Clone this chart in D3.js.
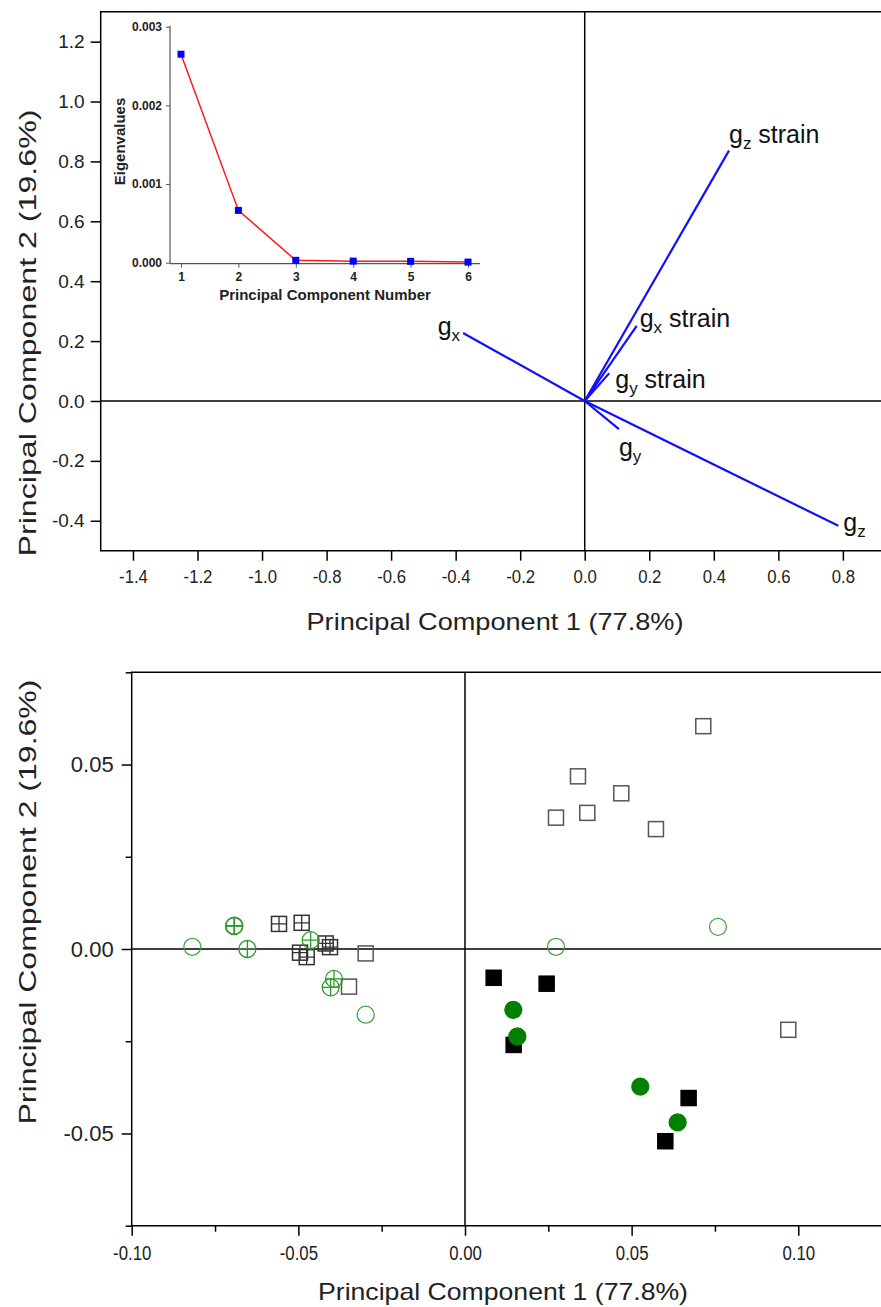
<!DOCTYPE html>
<html>
<head>
<meta charset="utf-8">
<style>
  body { margin: 0; background: #fff; }
  svg { display: block; font-family: "Liberation Sans", Arial, sans-serif; }
  .frame { fill: none; stroke: #000; stroke-width: 1.5px; }
  .zero { stroke: #000; stroke-width: 1.5px; }
  .axis path { display: none; }
  .axis line { stroke: #000; stroke-width: 1.5px; }
  .axis text { fill: #222; }
</style>
</head>
<body>
<svg id="chart" width="881" height="1307"></svg>
<script src="https://d3js.org/d3.v7.min.js"></script>
<script>
// ---- loadings (top chart) ----
var loadingNames = ["gz strain", "gx strain", "gy strain", "gy", "gz", "gx"];
var loadingX = [0.447, 0.161, 0.076, 0.106, 0.786, -0.377];
var loadingY = [0.836, 0.251, 0.093, -0.094, -0.417, 0.227];
var pc1Ticks = [-1.4, -1.2, -1.0, -0.8, -0.6, -0.4, -0.2, 0.0, 0.2, 0.4, 0.6, 0.8];
var pc2Ticks = [-0.4, -0.2, 0.0, 0.2, 0.4, 0.6, 0.8, 1.0, 1.2];

// ---- scree inset ----
var componentNumbers = [1, 2, 3, 4, 5, 6];
var eigenvalues = [0.00265, 0.000665, 0.00003, 0.00002, 0.000017, 0.000008];
var eigenTicks = [0, 0.001, 0.002, 0.003];

// ---- scores (bottom chart) ----
var openSquares = [
  [0.0715, 0.0604], [0.0339, 0.0468], [0.0469, 0.0422], [0.0273, 0.0356],
  [0.0367, 0.0369], [0.0573, 0.0325], [0.0970, -0.0219], [-0.0298, -0.0012],
  [-0.0348, -0.0102]
];
var crossSquares = [
  [-0.0558, 0.0068], [-0.0490, 0.0071], [-0.0495, -0.0010], [-0.0475, -0.0022],
  [-0.0418, 0.0015], [-0.0405, 0.0005]
];
var filledSquares = [
  [0.0086, -0.0078], [0.0245, -0.0094], [0.0146, -0.0260], [0.0671, -0.0404],
  [0.0601, -0.0521]
];
var openCircles = [
  [0.0273, 0.0006], [0.0759, 0.0060], [-0.0818, 0.0006], [-0.0298, -0.0178]
];
var crossCircles = [
  [-0.0693, 0.0062], [-0.0692, 0.0063], [-0.0653, 0.0000], [-0.0463, 0.0024],
  [-0.0393, -0.0081], [-0.0403, -0.0104]
];
var filledCircles = [
  [0.0145, -0.0165], [0.0157, -0.0237], [0.0526, -0.0373], [0.0638, -0.0470]
];
var scoreXMajor = [-0.10, -0.05, 0.00, 0.05, 0.10];
var scoreXMinor = [-0.075, -0.025, 0.025, 0.075];
var scoreYMajor = [-0.05, 0.00, 0.05];
var scoreYMinor = [-0.075, -0.025, 0.025, 0.075];

var svg = d3.select("#chart");
var hyphen = f => (v => d3.format(f)(v).replace("\u2212", "-"));

// ================= TOP: loadings =================
var x1 = d3.scaleLinear().domain([-1.5, 0.92]).range([100.7, 881.6]);
var y1 = d3.scaleLinear().domain([-0.5, 1.3]).range([550.7, 11.7]);

var topG = svg.append("g");

topG.append("g").attr("class", "axis")
  .attr("transform", "translate(0," + y1(-0.5) + ")")
  .call(d3.axisBottom(x1).tickValues(pc1Ticks).tickSize(10).tickPadding(9).tickFormat(hyphen(".1f")))
  .selectAll("text").style("font-size", "19px").attr("transform", "scale(0.88,1)");

topG.append("g").attr("class", "axis")
  .attr("transform", "translate(" + x1(-1.5) + ",0)")
  .call(d3.axisLeft(y1).tickValues(pc2Ticks).tickSize(10).tickPadding(6).tickFormat(hyphen(".1f")))
  .selectAll("text").style("font-size", "19px");

topG.append("line").attr("class", "zero")
  .attr("x1", x1(-1.5)).attr("x2", 882).attr("y1", y1(0)).attr("y2", y1(0));
topG.append("line").attr("class", "zero")
  .attr("x1", x1(0)).attr("x2", x1(0)).attr("y1", y1(1.3)).attr("y2", y1(-0.5));

topG.append("path").attr("class", "frame")
  .attr("d", "M882," + y1(1.3) + "H" + x1(-1.5) + "V" + y1(-0.5) + "H882");

topG.selectAll(".vec").data(loadingNames).enter().append("line")
  .attr("x1", x1(0)).attr("y1", y1(0))
  .attr("x2", (d, i) => x1(loadingX[i]))
  .attr("y2", (d, i) => y1(loadingY[i]))
  .attr("stroke", "#1010ff").attr("stroke-width", 2.2);

// label offsets in px from vector tip
var labelOffset = {
  "gz strain": [0, -8, "start"], "gx strain": [3, 1, "start"], "gy strain": [6, 15, "start"],
  "gy": [0, 27, "start"], "gz": [5, 5, "start"], "gx": [-3, 2, "end"]
};
loadingNames.forEach(function (name, i) {
  var o = labelOffset[name];
  var parts = name.split(" ");
  var t = topG.append("text")
    .attr("x", x1(loadingX[i]) + o[0]).attr("y", y1(loadingY[i]) + o[1])
    .attr("text-anchor", o[2]).style("font-size", "25px").attr("fill", "#111");
  t.append("tspan").text("g");
  t.append("tspan").attr("dy", 6).style("font-size", "17px").text(parts[0].slice(1));
  if (parts[1]) t.append("tspan").attr("dy", -6).text(" " + parts[1]);
});

topG.append("text").attr("x", 495).attr("y", 630).attr("text-anchor", "middle")
  .attr("textLength", 377).attr("lengthAdjust", "spacingAndGlyphs")
  .style("font-size", "24px").attr("fill", "#222").text("Principal Component 1 (77.8%)");
topG.append("text").attr("transform", "translate(36," + 333 + ") rotate(-90)")
  .attr("text-anchor", "middle").attr("textLength", 447).attr("lengthAdjust", "spacingAndGlyphs")
  .style("font-size", "24px").attr("fill", "#222")
  .text("Principal Component 2 (19.6%)");

// ---- inset scree plot ----
var xs = d3.scaleLinear().domain([1, 6]).range([181, 468]);
var ys = d3.scaleLinear().domain([0, 0.003]).range([262.7, 26.7]);
var inset = svg.append("g");

inset.append("line").attr("x1", 170).attr("x2", 170).attr("y1", ys(0.003) - 1).attr("y2", ys(0) + 1)
  .attr("stroke", "#555").attr("stroke-width", 1.2);
inset.append("line").attr("x1", 170).attr("x2", 480).attr("y1", ys(0) + 1).attr("y2", ys(0) + 1)
  .attr("stroke", "#555").attr("stroke-width", 1.2);

inset.append("g").attr("transform", "translate(170,0)")
  .call(d3.axisLeft(ys).tickValues(eigenTicks).tickSize(4).tickPadding(4).tickFormat(d3.format(".3f")))
  .call(g => g.select(".domain").remove())
  .call(g => g.selectAll("line").attr("stroke", "#555"))
  .selectAll("text").style("font-size", "12px").style("font-weight", "bold").attr("fill", "#222");

inset.append("g").attr("transform", "translate(0," + (ys(0) + 1) + ")")
  .call(d3.axisBottom(xs).tickValues(componentNumbers).tickSize(4).tickPadding(5).tickFormat(d3.format("d")))
  .call(g => g.select(".domain").remove())
  .call(g => g.selectAll("line").attr("stroke", "#555"))
  .selectAll("text").style("font-size", "12px").style("font-weight", "bold").attr("fill", "#222");

inset.append("path")
  .datum(componentNumbers)
  .attr("fill", "none").attr("stroke", "#ff1a1a").attr("stroke-width", 1.5)
  .attr("d", d3.line().x(d => xs(d)).y((d, i) => ys(eigenvalues[i])));

inset.selectAll(".pt").data(componentNumbers).enter().append("rect")
  .attr("x", d => xs(d) - 3.5).attr("y", (d, i) => ys(eigenvalues[i]) - 3.5)
  .attr("width", 7).attr("height", 7).attr("fill", "#0000ff");

inset.append("text").attr("x", 325).attr("y", 300).attr("text-anchor", "middle")
  .style("font-size", "15px").style("font-weight", "bold").attr("fill", "#222")
  .text("Principal Component Number");
inset.append("text").attr("transform", "translate(125,141.5) rotate(-90)")
  .attr("text-anchor", "middle").style("font-size", "15px").style("font-weight", "bold").attr("fill", "#222")
  .text("Eigenvalues");

// ================= BOTTOM: scores =================
var x2 = d3.scaleLinear().domain([-0.1, 0.125]).range([131.7, 881.6]);
var y2 = d3.scaleLinear().domain([-0.075, 0.075]).range([1225.7, 672.3]);
var bot = svg.append("g");
var yb = y2(-0.075), xl = x2(-0.1);

bot.append("g").attr("class", "axis").attr("transform", "translate(0," + yb + ")")
  .call(d3.axisBottom(x2).tickValues(scoreXMajor).tickSize(10).tickPadding(9).tickFormat(hyphen(".2f")))
  .selectAll("text").style("font-size", "21px").attr("transform", "scale(0.8,1)");
bot.append("g").attr("class", "axis").attr("transform", "translate(0," + yb + ")")
  .call(d3.axisBottom(x2).tickValues(scoreXMinor).tickSize(6).tickFormat(""));
bot.append("g").attr("class", "axis").attr("transform", "translate(" + xl + ",0)")
  .call(d3.axisLeft(y2).tickValues(scoreYMajor).tickSize(10).tickPadding(8).tickFormat(hyphen(".2f")))
  .selectAll("text").style("font-size", "22px");
bot.append("g").attr("class", "axis").attr("transform", "translate(" + xl + ",0)")
  .call(d3.axisLeft(y2).tickValues(scoreYMinor).tickSize(6).tickFormat(""));

bot.append("line").attr("class", "zero")
  .attr("x1", xl).attr("x2", 882).attr("y1", y2(0)).attr("y2", y2(0));
bot.append("line").attr("class", "zero")
  .attr("x1", x2(0)).attr("x2", x2(0)).attr("y1", y2(0.075)).attr("y2", yb);
bot.append("path").attr("class", "frame")
  .attr("d", "M882," + y2(0.075) + "H" + xl + "V" + yb + "H882");

var sq = 15, half = sq / 2, cr = 8.5;

function squares(data, fill, stroke, cross) {
  var g = bot.append("g");
  var s = g.selectAll("g").data(data).enter().append("g")
    .attr("transform", d => "translate(" + x2(d[0]) + "," + y2(d[1]) + ")");
  s.append("rect").attr("x", -half).attr("y", -half).attr("width", sq).attr("height", sq)
    .attr("fill", fill).attr("stroke", stroke).attr("stroke-width", 1.5);
  if (cross) {
    s.append("path").attr("d", "M0," + (-half) + "V" + half + "M" + (-half) + ",0H" + half)
      .attr("stroke", stroke).attr("stroke-width", 1.3);
  }
}
function circles(data, fill, stroke, cross) {
  var g = bot.append("g");
  var c = g.selectAll("g").data(data).enter().append("g")
    .attr("transform", d => "translate(" + x2(d[0]) + "," + y2(d[1]) + ")");
  c.append("circle").attr("r", cr).attr("fill", fill).attr("stroke", stroke).attr("stroke-width", 1.3);
  if (cross) {
    c.append("path").attr("d", "M0," + (-cr) + "V" + cr + "M" + (-cr) + ",0H" + cr)
      .attr("stroke", stroke).attr("stroke-width", 1.3);
  }
}

squares(openSquares, "none", "#555", false);
squares(crossSquares, "none", "#333", true);
squares(filledSquares, "#000", "#000", false);
circles(openCircles, "none", "#3fa33f", false);
circles(crossCircles, "none", "#2e9a2e", true);
circles(filledCircles, "#008000", "#008000", false);

bot.append("text").attr("x", 503).attr("y", 1300).attr("text-anchor", "middle")
  .attr("textLength", 370).attr("lengthAdjust", "spacingAndGlyphs")
  .style("font-size", "24px").attr("fill", "#222").text("Principal Component 1 (77.8%)");
bot.append("text").attr("transform", "translate(36," + 902 + ") rotate(-90)")
  .attr("text-anchor", "middle").attr("textLength", 445).attr("lengthAdjust", "spacingAndGlyphs")
  .style("font-size", "24px").attr("fill", "#222")
  .text("Principal Component 2 (19.6%)");
</script>
</body>
</html>
